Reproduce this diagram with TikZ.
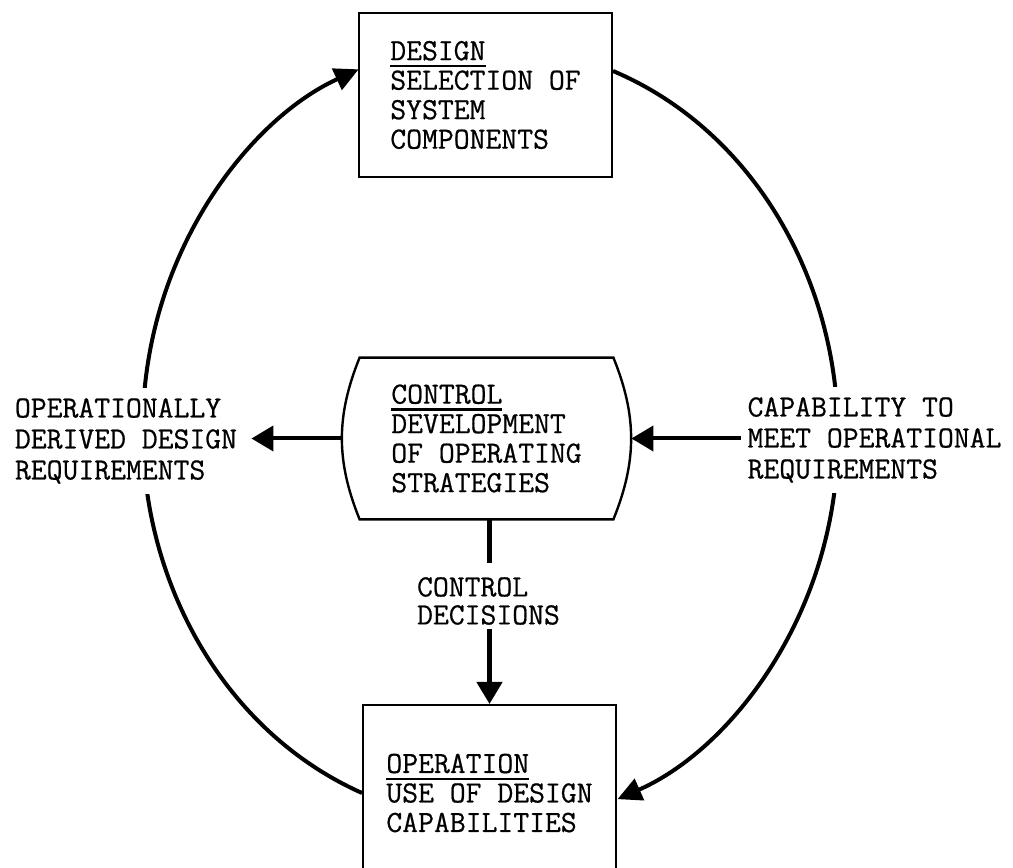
\documentclass[tikz,border=0pt]{standalone}
\usepackage{fontspec}
\newfontfamily\typer[FakeBold=0.6]{Latin Modern Mono}
\usetikzlibrary{arrows.meta,positioning}

% underlined heading word, rule set a little below the baseline
\newcommand\ulword[1]{\setbox0=\hbox{#1}\rlap{\rule[-3.5pt]{\wd0}{1.1pt}}\box0}

\begin{document}
\begin{tikzpicture}[x=0.5pt,y=0.5pt,
    every node/.style={font=\typer\fontsize{15.4pt}{14.75pt}\selectfont, align=left},
    blockbox/.style={draw, line width=1pt, minimum width=126.5pt, inner sep=0pt},
    ring/.style={line width=2pt, -{Triangle[length=12pt,width=11.5pt]}},
    flow/.style={line width=2pt, -{Triangle[length=11pt,width=12.5pt]}},
    tag/.style={fill=white, inner xsep=3pt, inner ysep=5pt,
      font=\typer\fontsize{15.4pt}{15.5pt}\selectfont}]
  \useasboundingbox (0,0) rectangle (1013,868);
  \clip (0,0) rectangle (1013,868);

  % blocks
  \node[blockbox, minimum height=82pt] (design) at (485.5,773)
    {\ulword{DESIGN}\\SELECTION OF\\SYSTEM\\COMPONENTS};
  \node[minimum width=126.5pt, minimum height=80.5pt, inner sep=0pt] (ctrl) at (486.5,429.5)
    {\ulword{CONTROL}\\DEVELOPMENT\\OF OPERATING\\STRATEGIES};
  \draw[line width=1.2pt] (ctrl.north west) -- (ctrl.north east)
    to[bend left=22] (ctrl.south east) -- (ctrl.south west)
    to[bend left=22] cycle;
  \node[blockbox, minimum height=88pt] (op) at (489.5,75)
    {\ulword{OPERATION}\\USE OF DESIGN\\CAPABILITIES};

  % outer loop
  \draw[ring] (op.west) arc[start angle=248.4, end angle=112.2, x radius=347, y radius=390];
  \draw[ring] ([yshift=12pt]design.east) arc[start angle=69.4, end angle=-68.6, x radius=347, y radius=390];

  % side labels sit on the loop
  \node[tag] (lreq) at (126,427) {OPERATIONALLY\\DERIVED DESIGN\\REQUIREMENTS};
  \node[tag] (rreq) at (874.5,428) {CAPABILITY TO\\MEET OPERATIONAL\\REQUIREMENTS};
  \node[tag, inner ysep=2pt, font=\typer\fontsize{15.4pt}{14pt}\selectfont] (cdec) at (488.5,267)
    {CONTROL\\DECISIONS};

  \draw[flow, shorten >=4pt] ([xshift=-8.5pt]ctrl.west) -- (lreq.east |- ctrl.west);
  \draw[flow] (rreq.west |- ctrl.east) -- ([xshift=9pt]ctrl.east);
  \draw[line width=2.2pt, shorten >=5pt] (ctrl.south -| op.north) -- (cdec.north -| op.north);
  \draw[flow, line width=2.2pt] (cdec.south -| op.north) -- (op.north);
\end{tikzpicture}
\end{document}
